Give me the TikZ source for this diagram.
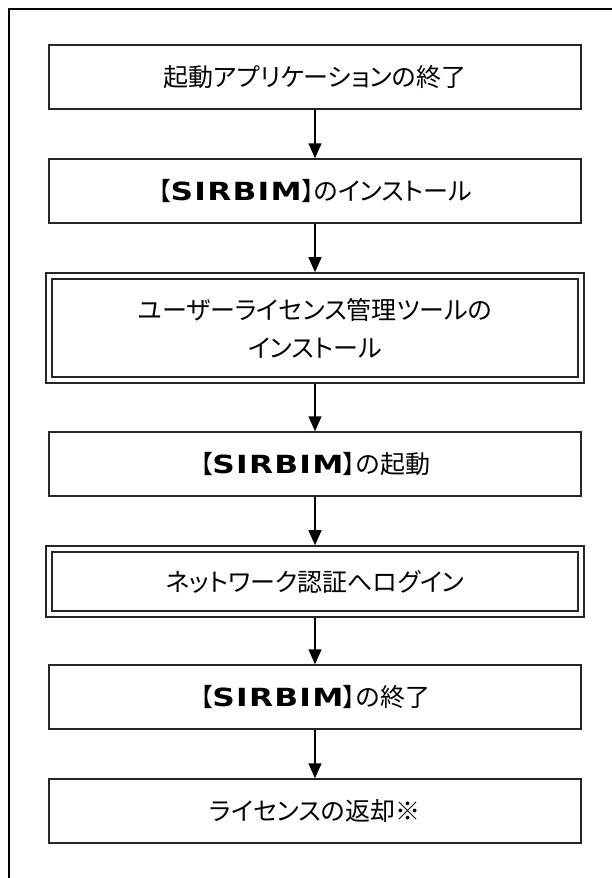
\documentclass[tikz,border=0pt]{standalone}
\usepackage{fontspec}
\newfontfamily\jp{Noto Sans CJK JP}[RawFeature=+palt]
\newfontfamily\vb{DejaVu Sans}[FakeStretch=1.25,LetterSpace=5]
\usetikzlibrary{arrows.meta}
\newcommand{\sirbim}{{\vb\bfseries SIRBIM}}
\begin{document}
\begin{tikzpicture}[x=1pt,y=-1pt,
  stepbox/.style={draw=black!85,line width=1.5pt,minimum width=532pt,minimum height=64pt,
    inner sep=0pt,align=center,font=\jp\fontsize{25}{38}\selectfont},
  dbl/.style={stepbox,line width=1.8pt,double,double distance=4pt,outer sep=3.8pt},
  flow/.style={line width=1.5pt,-{Triangle[length=15pt,width=13pt]}}]
\useasboundingbox (0,0) rectangle (611,878);
\draw[line width=2.5pt] (9,890) -- (9,9) -- (620,9);
\node[stepbox] (a) at (315,77) {起動アプリケーションの終了};
\node[stepbox] (b) at (315,191) {【\sirbim】のインストール};
\node[dbl,minimum height=104pt] (c) at (315,328) {ユーザーライセンス管理ツールの\\インストール};
\node[stepbox] (d) at (315,464) {【\sirbim】の起動};
\node[dbl,minimum height=65pt] (e) at (315,581.5) {ネットワーク認証へログイン};
\node[stepbox] (f) at (315,697) {【\sirbim】の終了};
\node[stepbox] (g) at (315,811) {ライセンスの返却※};
\draw[flow] (a) -- (b);
\draw[flow] (b) -- (c);
\draw[flow] (c) -- (d);
\draw[flow] (d) -- (e);
\draw[flow] (e) -- (f);
\draw[flow] (f) -- (g);
\end{tikzpicture}
\end{document}
